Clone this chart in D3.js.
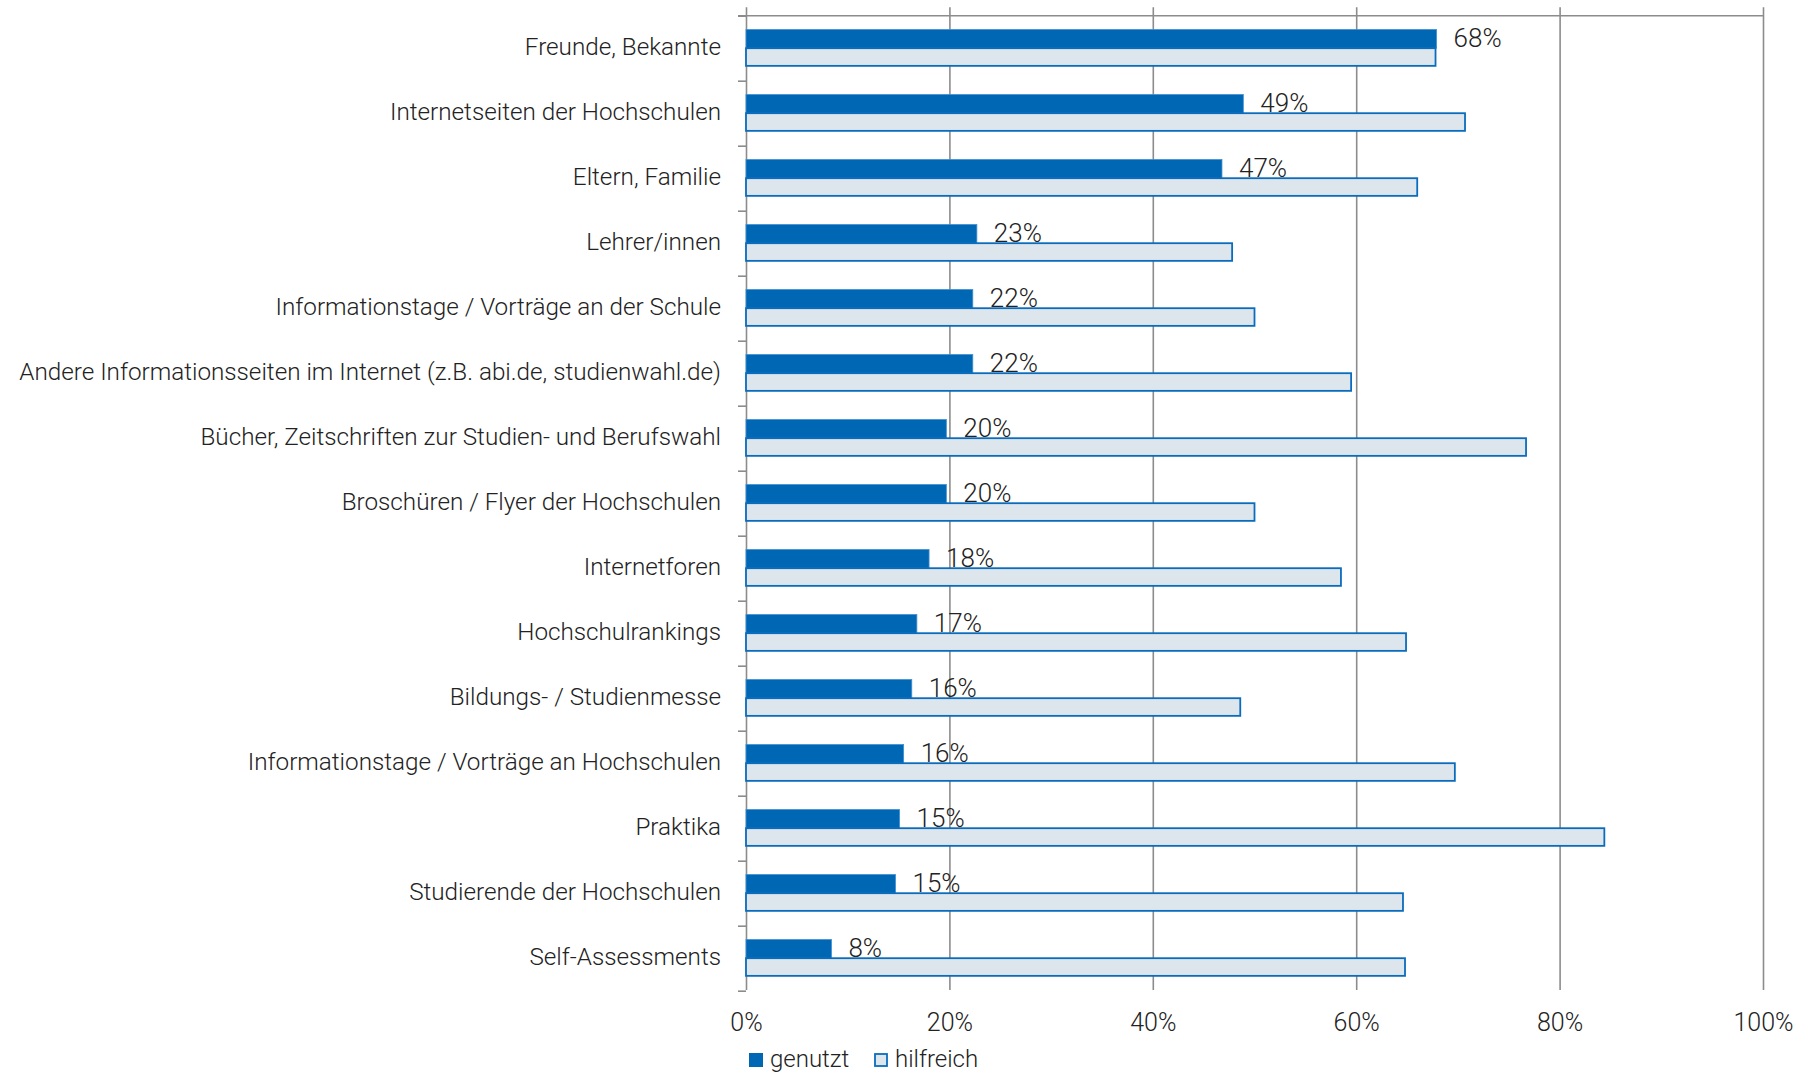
<!DOCTYPE html>
<html>
<head>
<meta charset="utf-8">
<script src="https://cdn.jsdelivr.net/npm/d3@7"></script>
<style>
  body { margin: 0; background: #fff; }
  svg text { font-family: Roboto, "Open Sans", sans-serif; font-weight: 300; fill: #222; }
</style>
</head>
<body>
<svg id="chart" width="1817" height="1073"></svg>
<script>
// categories, top to bottom
const categories = [
    "Freunde, Bekannte",
    "Internetseiten der Hochschulen",
    "Eltern, Familie",
    "Lehrer/innen",
    "Informationstage / Vorträge an der Schule",
    "Andere Informationsseiten im Internet (z.B. abi.de, studienwahl.de)",
    "Bücher, Zeitschriften zur Studien- und Berufswahl",
    "Broschüren / Flyer der Hochschulen",
    "Internetforen",
    "Hochschulrankings",
    "Bildungs- / Studienmesse",
    "Informationstage / Vorträge an Hochschulen",
    "Praktika",
    "Studierende der Hochschulen",
    "Self-Assessments"
];
// share who used the source (labelled)
const genutzt = [67.9, 48.9, 46.8, 22.7, 22.3, 22.3, 19.7, 19.7, 18.0, 16.8, 16.3, 15.5, 15.1, 14.7, 8.4];
// share who found it helpful (no labels in the original)
const hilfreich = [67.8, 70.7, 66.0, 47.8, 50.0, 59.5, 76.7, 50.0, 58.5, 64.9, 48.6, 69.7, 84.4, 64.6, 64.8];
const seriesNames = ["genutzt", "hilfreich"];
const xTicks = [0, 20, 40, 60, 80, 100];

const svg = d3.select("#chart");
const plotLeft = 746, plotRight = 1763, plotTop = 15.7, plotBottom = 990.7;

const x = d3.scaleLinear().domain([0, 100]).range([plotLeft, plotRight]);
const y = d3.scaleBand().domain(categories).range([plotTop, plotBottom])
    .paddingInner(0.426).paddingOuter(0.213);
const ySub = d3.scaleBand().domain(seriesNames).range([0, y.bandwidth()]);

// vertical gridlines (0% one doubles as the axis line)
const grid = svg.append("g").attr("transform", `translate(0,${plotBottom - 0.7})`)
    .call(d3.axisTop(x).tickValues(xTicks).tickSize(plotBottom - 8).tickFormat(""));
grid.select(".domain").remove();
grid.selectAll("line").attr("stroke", "#8c8c8c").attr("stroke-width", 1.6);

// top border line
svg.append("line")
    .attr("x1", plotLeft - 8).attr("x2", plotRight)
    .attr("y1", plotTop).attr("y2", plotTop)
    .attr("stroke", "#8c8c8c").attr("stroke-width", 1.6);

// category boundary ticks on the left
const yEdges = d3.scaleLinear().domain([0, categories.length]).range([plotTop, plotBottom]);
const yTickAxis = svg.append("g").attr("transform", `translate(${plotLeft},0)`)
    .call(d3.axisLeft(yEdges).ticks(categories.length).tickSize(8).tickFormat(""));
yTickAxis.select(".domain").remove();
yTickAxis.selectAll("line").attr("stroke", "#8c8c8c").attr("stroke-width", 1.6);

// x tick labels
const xAxis = svg.append("g").attr("transform", `translate(0,${plotBottom})`)
    .call(d3.axisBottom(x).tickValues(xTicks).tickSize(0).tickFormat(d => d + "%"));
xAxis.select(".domain").remove();
xAxis.selectAll("text")
    .attr("y", 40).attr("dy", 0)
    .style("font-size", "25px")
    .style("fill", "#222");

// bars
const rows = categories.map((c, i) => ({cat: c, genutzt: genutzt[i], hilfreich: hilfreich[i]}));

svg.append("g").selectAll("rect")
    .data(rows)
    .join("rect")
    .attr("x", x(0))
    .attr("y", d => y(d.cat) + ySub("genutzt"))
    .attr("width", d => x(d.genutzt) - x(0))
    .attr("height", ySub.bandwidth())
    .attr("fill", "#0067b4")
    .attr("stroke", "#3f8fd2")
    .attr("stroke-width", 0.8);

svg.append("g").selectAll("rect")
    .data(rows)
    .join("rect")
    .attr("x", x(0))
    .attr("y", d => y(d.cat) + ySub("hilfreich"))
    .attr("width", d => x(d.hilfreich) - x(0))
    .attr("height", ySub.bandwidth() - 1)
    .attr("fill", "#dee6ed")
    .attr("stroke", "#0a6cbd")
    .attr("stroke-width", 1.8);

// value labels for genutzt
svg.append("g").selectAll("text")
    .data(rows)
    .join("text")
    .attr("x", d => x(d.genutzt) + 17)
    .attr("y", d => y(d.cat) + ySub("genutzt") + ySub.bandwidth() - 1)
    .style("font-size", "26px")
    .text(d => Math.round(d.genutzt) + "%");

// category labels, right aligned, squeezed to match the narrow original face
const catLabels = svg.append("g").selectAll("text")
    .data(categories)
    .join("text")
    .attr("text-anchor", "end")
    .style("font-size", "24.5px")
    .text(d => d);
const longest = catLabels.filter(d => d === categories[5]).node().getComputedTextLength();
const squeeze = Math.min(1, 702 / longest);
catLabels.attr("transform", d => `translate(${plotLeft - 25},${y(d) + y.bandwidth() / 2 + 6.5}) scale(${squeeze},1)`);

// legend
const legend = svg.append("g").attr("transform", "translate(749,1053)");
const legendItems = [
    {name: "genutzt", fill: "#0067b4", stroke: "none", dx: 0},
    {name: "hilfreich", fill: "#dee6ed", stroke: "#0a6cbd", dx: 125}
];
legendItems.forEach(d => {
    legend.append("rect")
        .attr("x", d.dx + (d.stroke === "none" ? 0 : 1))
        .attr("y", d.stroke === "none" ? 0 : 1)
        .attr("width", d.stroke === "none" ? 14 : 12)
        .attr("height", d.stroke === "none" ? 14 : 12)
        .attr("fill", d.fill)
        .attr("stroke", d.stroke)
        .attr("stroke-width", 1.8);
    legend.append("text")
        .attr("x", d.dx + 21)
        .attr("y", 14)
        .style("font-size", "24px")
        .text(d.name);
});
</script>
</body>
</html>
